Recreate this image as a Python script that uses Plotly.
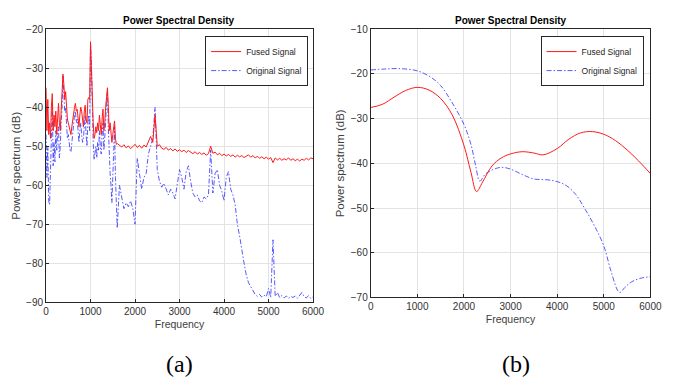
import plotly.graph_objects as go

# ---------------- Panel (a) data ----------------
freq_a_head = list(range(0, 1601, 20))      # 81 points
freq_a_tail = list(range(1650, 6001, 50))   # 88 points

fused_a_head = [
    -35, -46, -38, -47, -44, -48, -40, -36.5, -46, -42,
    -45, -41, -47, -43, -39, -44, -46, -41, -37, -31.5,
    -34, -38, -36, -40, -43, -44, -45, -46.5, -47, -45,
    -43, -41, -40, -39, -41, -40.5, -43, -45, -42, -40,
    -41, -43.5, -45, -41, -39.5, -43, -44, -38, -37.5, -38,
    -23.2, -30, -40, -44, -48, -47, -45, -46.5, -44, -46,
    -42, -45.5, -47, -43, -40.5, -46, -44, -40, -36, -35,
    -40, -46, -44, -47.5, -49, -47, -44, -43.5, -48, -49.5,
    -49.3,
]
fused_a_tail = [
    -49.8, -50.2, -49.6, -50.4, -49.9, -50.6, -50.1, -49.5, -50.3, -49.8,
    -50.5, -49.7, -50.2, -48.8, -47.5, -49.0, -42.0, -50.0, -49.6, -50.5,
    -50.8, -50.3, -51.0, -50.6, -51.2, -50.7, -51.3, -50.9, -51.4, -51.0,
    -51.6, -51.1, -51.5, -51.9, -51.4, -52.0, -51.6, -52.1, -51.7, -52.3,
    -51.9, -50.0, -51.8, -51.5, -52.2, -51.8, -52.4, -52.0, -52.5, -52.1,
    -52.6, -52.2, -52.8, -52.3, -52.7, -52.4, -52.9, -52.5, -52.2, -52.8,
    -52.4, -53.0, -52.6, -53.1, -52.7, -53.2, -52.8, -53.3, -52.9, -54.2,
    -53.0, -53.5, -53.1, -53.6, -53.2, -53.5, -53.0, -53.6, -53.2, -53.7,
    -53.3, -53.8, -53.3, -53.6, -53.1, -53.5, -53.0, -53.2,
]
orig_a_head = [
    -47, -58, -50, -64, -65, -52, -48, -39, -55, -49,
    -54, -46, -51, -47, -45, -53, -50, -44, -40, -32,
    -36, -41, -40, -46, -48, -47, -50, -51, -51.5, -49,
    -46, -44, -42, -41, -44, -43, -47, -49, -46, -44,
    -47, -49, -48, -43, -42, -47, -50, -44, -42, -46,
    -24, -29, -44, -49, -53.5, -52, -50, -53, -49, -51,
    -46, -50, -52, -47, -44, -51, -48, -44, -38, -36,
    -45, -52, -57, -60, -64.5, -58, -49, -45, -58, -66,
    -71,
]
orig_a_tail = [
    -60, -63, -66, -64.5, -65.5, -64, -66, -70, -53, -57,
    -61, -58, -57, -52, -50, -48, -40, -56, -59, -60.5,
    -59.5, -61, -62.5, -61, -62, -63.5, -60, -56, -58, -61,
    -56.5, -55, -59, -62, -63, -62.5, -64, -64.5, -63, -63.5,
    -62.5, -51, -62, -57, -56, -60, -61.5, -64, -58, -56.5,
    -61, -62.5, -65, -70, -73, -77, -80, -83, -85, -86,
    -87, -88, -88.5, -88, -88.7, -88.2, -88.6, -86.5, -88.8, -74,
    -88.5, -87.5, -88.8, -88.3, -88.9, -88.4, -89, -88.5, -88.8, -88.4,
    -89, -88.2, -87.5, -88.6, -88.9, -88.3, -89, -88.6,
]
assert len(fused_a_head) == len(freq_a_head) == len(orig_a_head)
assert len(fused_a_tail) == len(freq_a_tail) == len(orig_a_tail)
freq_a = freq_a_head + freq_a_tail
fused_a = fused_a_head + fused_a_tail
orig_a = orig_a_head + orig_a_tail

# ---------------- Panel (b) data ----------------
freq_b_fused = [0, 250, 500, 750, 1000, 1250, 1500, 1750, 2000, 2150, 2270, 2400,
                2600, 2800, 3000, 3250, 3500, 3700, 4000, 4250, 4500, 4750, 5000,
                5250, 5500, 5750, 6000]
fused_b = [-27.5, -26.8, -25.2, -23.7, -23.0, -23.6, -25.5, -29.2, -36.0, -42.0, -46.3, -44.2,
           -40.6, -38.8, -37.9, -37.4, -37.7, -38.1, -36.7, -34.6, -33.2, -32.9, -33.5,
           -34.9, -37.0, -39.5, -42.3]
freq_b_orig = [0, 300, 600, 1000, 1300, 1500, 1750, 2000, 2150, 2250, 2340, 2450, 2600,
               2800, 3000, 3250, 3500, 3800, 4000, 4200, 4400, 4600, 4800, 5000, 5150,
               5300, 5350, 5450, 5600, 5800, 6000]
orig_b = [-19.1, -18.9, -18.8, -19.3, -20.8, -22.6, -26.5, -31.3, -35.8, -40.5, -44.0, -42.5, -41.5,
          -40.9, -41.3, -42.5, -43.5, -43.7, -44.1, -45.0, -47.0, -50.3, -54.0, -58.5, -64.0,
          -68.5, -68.9, -67.8, -66.5, -65.7, -65.4]

x_ticks = [0, 1000, 2000, 3000, 4000, 5000, 6000]
ya_ticks = [-20, -30, -40, -50, -60, -70, -80, -90]
yb_ticks = [-10, -20, -30, -40, -50, -60, -70]

FONT = "Liberation Sans, Arial, sans-serif"
RED = "#ff1a1a"
BLUE = "#3030ff"
DASHDOT = "5px,2px,1.5px,2px"

fig = go.Figure()
fig.add_trace(go.Scatter(x=freq_a, y=orig_a, mode="lines", name="Original Signal",
                         line=dict(color=BLUE, width=0.8, dash=DASHDOT), xaxis="x", yaxis="y",
                         legend="legend"))
fig.add_trace(go.Scatter(x=freq_a, y=fused_a, mode="lines", name="Fused Signal",
                         line=dict(color=RED, width=1), xaxis="x", yaxis="y", legend="legend"))
fig.add_trace(go.Scatter(x=freq_b_orig, y=orig_b, mode="lines", name="Original Signal",
                         line=dict(color=BLUE, width=0.8, dash=DASHDOT, shape="spline"),
                         xaxis="x2", yaxis="y2", legend="legend2"))
fig.add_trace(go.Scatter(x=freq_b_fused, y=fused_b, mode="lines", name="Fused Signal",
                         line=dict(color=RED, width=1, shape="spline"), xaxis="x2", yaxis="y2",
                         legend="legend2"))

W, H = 681, 383
def px(v): return v / W
def py(v): return 1 - v / H

axis_common = dict(showline=True, linecolor="#262626", linewidth=1, mirror=True,
                   ticks="inside", ticklen=3, tickcolor="#262626",
                   showgrid=True, gridcolor="#e3e3e3", gridwidth=1, zeroline=False,
                   tickfont=dict(family=FONT, size=10, color="#333333"))
xtitle = dict(text="Frequency", font=dict(family=FONT, size=10.5, color="#404040"), standoff=4)
ytitle = dict(text="Power spectrum (dB)", font=dict(family=FONT, size=11.5, color="#404040"), standoff=3)
legend_common = dict(xanchor="right", yanchor="top", bgcolor="white", bordercolor="#262626",
                     borderwidth=1, font=dict(family=FONT, size=8.5, color="#262626"),
                     tracegroupgap=0, itemwidth=30, traceorder="reversed")

fig.update_layout(
    width=W, height=H, margin=dict(l=0, r=0, t=0, b=0),
    paper_bgcolor="white", plot_bgcolor="white",
    font=dict(family=FONT, color="#262626"),
    xaxis=dict(domain=[px(44), px(317)], range=[0, 6000], tickvals=x_ticks,
               anchor="y", title=xtitle, **axis_common),
    yaxis=dict(domain=[py(306), py(25)], range=[-90, -20], tickvals=ya_ticks,
               anchor="x", title=ytitle, **axis_common),
    xaxis2=dict(domain=[px(376), px(662)], range=[0, 6000], tickvals=x_ticks,
                anchor="y2", title=xtitle, **axis_common),
    yaxis2=dict(domain=[py(301), py(25)], range=[-70, -10], tickvals=yb_ticks,
                anchor="x2", title=ytitle, **axis_common),
    legend=dict(x=px(312), y=py(32), **legend_common),
    legend2=dict(x=px(655), y=py(32), **legend_common),
    showlegend=True,
    annotations=[
        dict(text="<b>Power Spectral Density</b>", x=px(180), y=py(16), xref="paper", yref="paper",
             xanchor="center", yanchor="middle", showarrow=False,
             font=dict(family=FONT, size=10, color="black")),
        dict(text="<b>Power Spectral Density</b>", x=px(519), y=py(16), xref="paper", yref="paper",
             xanchor="center", yanchor="middle", showarrow=False,
             font=dict(family=FONT, size=10, color="black")),
        dict(text="(a)", x=px(180), y=py(370), xref="paper", yref="paper", showarrow=False,
             xanchor="center", yanchor="middle",
             font=dict(family="Liberation Serif, Times New Roman, serif", size=24, color="black")),
        dict(text="(b)", x=px(525), y=py(370), xref="paper", yref="paper", showarrow=False,
             xanchor="center", yanchor="middle",
             font=dict(family="Liberation Serif, Times New Roman, serif", size=24, color="black")),
    ],
)

fig.write_html("out.html", config={"displayModeBar": False},
               post_script="document.body.style.margin='0px';document.body.style.overflow='hidden';")
